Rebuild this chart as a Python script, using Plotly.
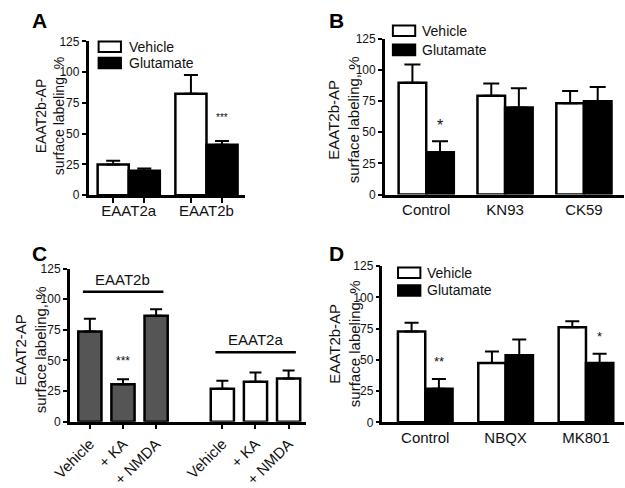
import plotly.graph_objects as go

W, H = 625, 488
FONT = "Liberation Sans, Arial, sans-serif"

# ---------------- data ----------------
series_names = ["Vehicle", "Glutamate"]

# Panel A
a_cats = ["EAAT2a", "EAAT2b"]
a_vehicle = [24.9, 82.5]
a_vehicle_top = [28.0, 97.8]
a_glut = [20.0, 41.0]
a_glut_top = [21.8, 44.0]
a_sig = ["", "***"]

# Panel B
b_cats = ["Control", "KN93", "CK59"]
b_vehicle = [89.7, 79.4, 73.3]
b_vehicle_top = [104.5, 89.1, 83.2]
b_glut = [34.0, 69.9, 75.0]
b_glut_top = [42.8, 85.3, 86.3]
b_sig = ["*", "", ""]

# Panel C
c_groups = ["EAAT2b", "EAAT2a"]
c_conds = ["Vehicle", "+ KA", "+ NMDA"]
c_2b = [73.7, 30.5, 86.5]
c_2b_top = [84.1, 34.6, 91.7]
c_2a = [26.8, 32.6, 35.2]
c_2a_top = [33.3, 40.1, 41.7]
c_sig = ["", "***", "", "", "", ""]
c_bracket = [106.0, 56.7]

# Panel D
d_cats = ["Control", "NBQX", "MK801"]
d_vehicle = [72.7, 47.4, 76.0]
d_vehicle_top = [79.6, 56.6, 80.9]
d_glut = [26.8, 53.6, 47.4]
d_glut_top = [34.7, 66.3, 54.8]
d_sig = ["**", "", "*"]

y_ticks = [0, 25, 50, 75, 100, 125]

# ---------------- helpers ----------------
def px(x):
    return x / W

def py(y):
    return 1 - y / H

fig = go.Figure()
annotations = []
shapes = []


def bars(name, xs, vals, tops, color, w, xa, ya, cap):
    fig.add_trace(go.Bar(
        name=name, x=xs, y=vals, width=w,
        marker=dict(color=color, line=dict(color="black", width=2.5)),
        error_y=dict(type="data", symmetric=False,
                     array=[t - v for t, v in zip(tops, vals)],
                     arrayminus=[0] * len(vals),
                     color="black", thickness=2, width=cap),
        xaxis=xa, yaxis=ya, showlegend=False, hoverinfo="skip",
    ))


def stars(xs, tops, sig, xref, yref, size, off):
    for x, t, s in zip(xs, tops, sig):
        if s:
            annotations.append(dict(x=x, y=t + off, text=s, xref=xref, yref=yref,
                                    showarrow=False, yanchor="middle",
                                    font=dict(size=size, color="#111", family=FONT)))


def legend(x0, y0, dy, tx, size):
    for i, (n, c) in enumerate(zip(series_names, ["white", "black"])):
        top = y0 + i * dy
        shapes.append(dict(type="rect", xref="paper", yref="paper",
                           x0=px(x0), x1=px(x0 + 23), y0=py(top + 11), y1=py(top),
                           fillcolor=c, line=dict(color="black", width=2)))
        annotations.append(dict(x=px(tx), y=py(top + 5.5), xref="paper", yref="paper",
                                text=n, showarrow=False, xanchor="left", yanchor="middle",
                                font=dict(size=size, color="#111", family=FONT)))


def ytitle(text, xc, yc, size):
    annotations.append(dict(x=px(xc), y=py(yc), xref="paper", yref="paper",
                            text=text, textangle=-90, showarrow=False,
                            xanchor="center", yanchor="middle",
                            font=dict(size=size, color="#111", family=FONT)))


def letter(t, x, y):
    annotations.append(dict(x=px(x), y=py(y), xref="paper", yref="paper", text="<b>%s</b>" % t,
                            showarrow=False, xanchor="left", yanchor="middle",
                            font=dict(size=21, color="black", family=FONT)))

# ---------------- Panel A ----------------
wa = 0.4
ga = list(range(len(a_cats)))
xa_v = [g - wa / 2 for g in ga]
xa_g = [g + wa / 2 for g in ga]
bars(series_names[0], xa_v, a_vehicle, a_vehicle_top, "white", wa, "x", "y", 7)
bars(series_names[1], xa_g, a_glut, a_glut_top, "black", wa, "x", "y", 7)
stars(xa_g, a_glut_top, a_sig, "x", "y", 10, 19)

# ---------------- Panel B ----------------
wb = 0.35
gb = list(range(len(b_cats)))
xb_v = [g - wb / 2 for g in gb]
xb_g = [g + wb / 2 for g in gb]
bars(series_names[0], xb_v, b_vehicle, b_vehicle_top, "white", wb, "x2", "y2", 8)
bars(series_names[1], xb_g, b_glut, b_glut_top, "black", wb, "x2", "y2", 8)
stars(xb_g, b_glut_top, b_sig, "x2", "y2", 16, 13)

# ---------------- Panel C ----------------
wc = 0.7
xc_b = [i for i in range(len(c_conds))]
xc_a = [i + len(c_conds) + 1 for i in range(len(c_conds))]
bars("EAAT2b", xc_b, c_2b, c_2b_top, "#555555", wc, "x3", "y3", 6)
bars("EAAT2a", xc_a, c_2a, c_2a_top, "white", wc, "x3", "y3", 6)
stars(xc_b + xc_a, c_2b_top + c_2a_top, c_sig, "x3", "y3", 12, 15)
for grp, xs, yb in zip(c_groups, [xc_b, xc_a], c_bracket):
    shapes.append(dict(type="line", xref="x3", yref="y3", x0=xs[0] - 0.21, x1=xs[-1] + 0.22,
                       y0=yb, y1=yb, line=dict(color="black", width=2.5)))
    annotations.append(dict(x=(xs[0] + xs[-1]) / 2, y=yb + 10, xref="x3", yref="y3", text=grp,
                            showarrow=False, yanchor="middle",
                            font=dict(size=15, color="#111", family=FONT)))

# ---------------- Panel D ----------------
wd = 0.34
gd = list(range(len(d_cats)))
xd_v = [g - wd / 2 for g in gd]
xd_g = [g + wd / 2 for g in gd]
bars(series_names[0], xd_v, d_vehicle, d_vehicle_top, "white", wd, "x4", "y4", 7)
bars(series_names[1], xd_g, d_glut, d_glut_top, "black", wd, "x4", "y4", 7)
stars(xd_g, d_glut_top, d_sig, "x4", "y4", 13, 14)

# ---------------- axes ----------------
def yax(dom):
    return dict(domain=[py(dom[1]), py(dom[0])], range=[0, 125], tickvals=y_ticks,
                showline=True, linecolor="black", linewidth=2.5, ticks="outside",
                ticklen=4, tickwidth=2, tickcolor="black", showgrid=False, zeroline=False,
                tickfont=dict(size=12, color="#111", family=FONT), fixedrange=True)


def xax(dom, rng, **kw):
    d = dict(domain=[px(dom[0]), px(dom[1])], range=rng, showline=True, linecolor="black",
             linewidth=2.5, showgrid=False, zeroline=False,
             tickfont=dict(size=15, color="#111", family=FONT), fixedrange=True)
    d.update(kw)
    return d

fig.update_layout(
    width=W, height=H, margin=dict(l=0, r=0, t=0, b=0),
    paper_bgcolor="white", plot_bgcolor="white", barmode="overlay",
    showlegend=False, hovermode=False,
    xaxis=xax((72.7, 233.3), [-0.516, 1.49], anchor="y", tickmode="array", tickvals=ga,
              ticktext=a_cats, ticks="",
              minor=dict(tickmode="array", tickvals=xa_v + xa_g, ticks="outside",
                         ticklen=5, tickwidth=2, tickcolor="black")),
    yaxis=yax((36, 196.7)) | dict(anchor="x"),
    xaxis2=xax((377.7, 623.7), [-0.525, 2.505], anchor="y2", tickmode="array", tickvals=gb,
               ticktext=b_cats, ticks=""),
    yaxis2=yax((33.3, 196)) | dict(anchor="x2"),
    xaxis3=xax((53.3, 296.7), [-0.607, 6.53], anchor="y3", tickmode="array",
               tickvals=xc_b + xc_a, ticktext=c_conds + c_conds, ticks="outside",
               ticklen=5, tickwidth=2, tickcolor="black", tickangle=-45,
               tickfont=dict(size=15, color="#111", family=FONT)),
    yaxis3=yax((273.3, 433.3)) | dict(anchor="x3"),
    xaxis4=xax((375.3, 623.7), [-0.532, 2.47], anchor="y4", tickmode="array", tickvals=gd,
               ticktext=d_cats, ticks=""),
    yaxis4=yax((270.7, 434)) | dict(anchor="x4"),
)

legend(83, 36, 17, 112, 14)
legend(386, 19.3, 20, 413.7, 14)
legend(391.3, 272.3, 18.4, 419.3, 14)

ytitle("EAAT2b-AP<br>surface labeling, %", 33, 114, 14)
ytitle("EAAT2b-AP<br>surface labeling, %", 336, 118, 15)
ytitle("EAAT2-AP<br>surface labeling, %", 13, 358, 15)
ytitle("EAAT2b-AP<br>surface labeling, %", 337, 352, 15)

letter("A", 12, 14)
letter("B", 318, 14)
letter("C", 12, 258)
letter("D", 318, 258)

fig.update_layout(annotations=annotations, shapes=shapes)
fig.write_html("out.html", config={"displayModeBar": False},
               post_script="document.body.style.margin='0px';")
